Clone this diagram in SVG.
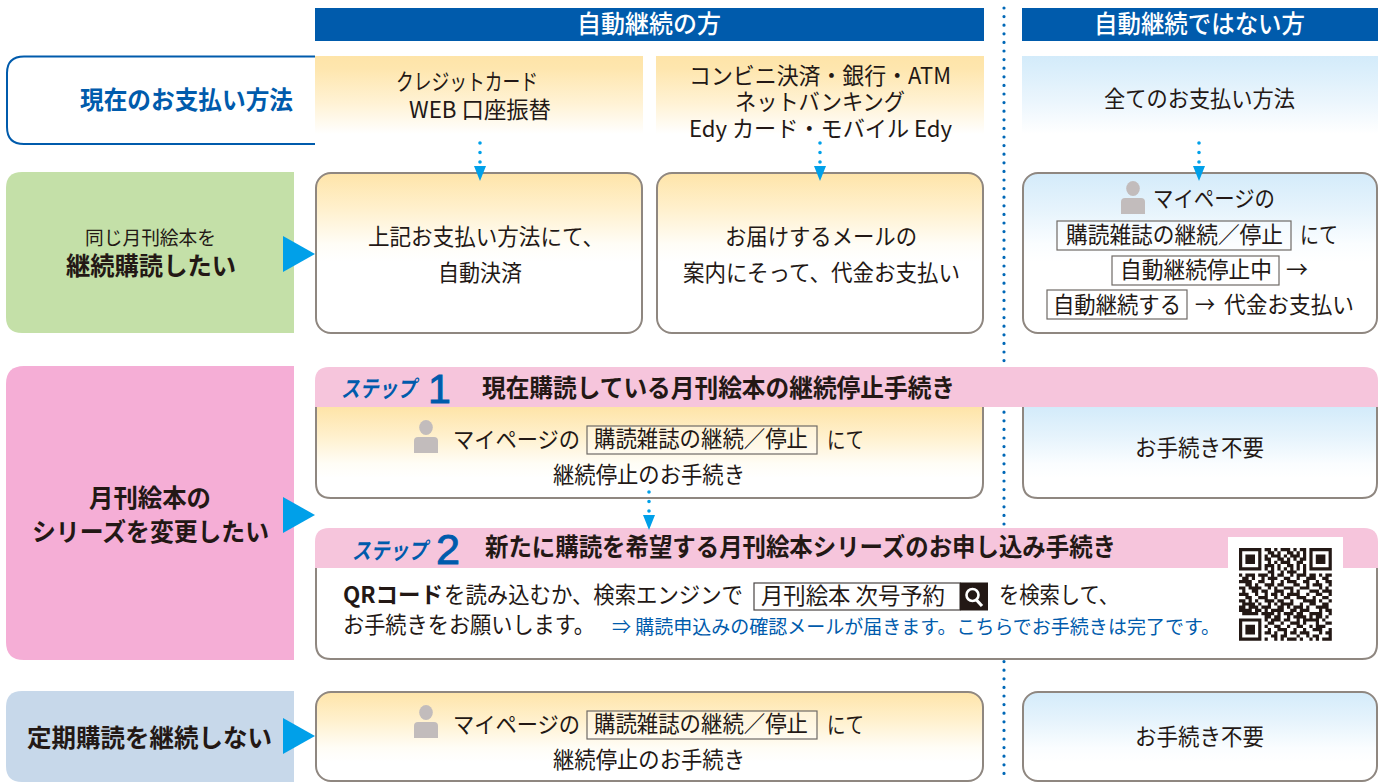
<svg xmlns="http://www.w3.org/2000/svg" xmlns:xlink="http://www.w3.org/1999/xlink" width="1381" height="782" viewBox="0 0 1381 782">
<style>
text{font-family:"Noto Sans CJK JP","Noto Sans",sans-serif;fill:#231815;font-size:22.5px;font-weight:400}
.b{font-weight:700}
.w{fill:#fff;font-size:25px;font-weight:500}
.bl{fill:#005bac}
.lg{font-size:25px;font-weight:700}
.t{font-size:24.5px;font-weight:700}
.st{fill:#005bac;font-size:23px;font-weight:700;font-style:italic}
.n{fill:#005bac;font-family:"Liberation Sans",sans-serif;font-weight:400;stroke:#005bac;stroke-width:.9px}
.card{stroke:#8f8780;stroke-width:2}
.box{fill:#fff;fill-opacity:.35;stroke:#6f6a66;stroke-width:1.2}
.hd{fill:#005bac}
.bar{fill:#f6c5dc}
.dot{fill:none;stroke:#00a0e9;stroke-width:3.6;stroke-linecap:round;stroke-dasharray:0 9.5}
.tri{fill:#00a0e9}
</style>
<defs>
<linearGradient id="y" x1="0" y1="0" x2="0" y2="1"><stop offset="0" stop-color="#fee4a8"/><stop offset=".12" stop-color="#fee6ae"/><stop offset=".45" stop-color="#fff2d4"/><stop offset=".75" stop-color="#fff"/></linearGradient>
<linearGradient id="c" x1="0" y1="0" x2="0" y2="1"><stop offset="0" stop-color="#d3ebfa"/><stop offset=".12" stop-color="#d9eefb"/><stop offset=".45" stop-color="#ecf6fd"/><stop offset=".75" stop-color="#fff"/></linearGradient>
<linearGradient id="yc" x1="0" y1="172" x2="0" y2="262" gradientUnits="userSpaceOnUse"><stop offset="0" stop-color="#fee4a8"/><stop offset=".4" stop-color="#fff0cc"/><stop offset=".8" stop-color="#fffdf6"/><stop offset="1" stop-color="#fff"/></linearGradient>
<linearGradient id="cc" x1="0" y1="172" x2="0" y2="262" gradientUnits="userSpaceOnUse"><stop offset="0" stop-color="#d3ebfa"/><stop offset=".4" stop-color="#e5f3fc"/><stop offset=".8" stop-color="#fafdff"/><stop offset="1" stop-color="#fff"/></linearGradient>
<linearGradient id="y2" x1="0" y1="407" x2="0" y2="478" gradientUnits="userSpaceOnUse"><stop offset="0" stop-color="#fee4a8"/><stop offset=".4" stop-color="#fff0cc"/><stop offset=".8" stop-color="#fffdf6"/><stop offset="1" stop-color="#fff"/></linearGradient>
<linearGradient id="c2" x1="0" y1="407" x2="0" y2="478" gradientUnits="userSpaceOnUse"><stop offset="0" stop-color="#d3ebfa"/><stop offset=".4" stop-color="#e5f3fc"/><stop offset=".8" stop-color="#fafdff"/><stop offset="1" stop-color="#fff"/></linearGradient>
<linearGradient id="y3" x1="0" y1="691" x2="0" y2="762" gradientUnits="userSpaceOnUse"><stop offset="0" stop-color="#fee4a8"/><stop offset=".4" stop-color="#fff0cc"/><stop offset=".8" stop-color="#fffdf6"/><stop offset="1" stop-color="#fff"/></linearGradient>
<linearGradient id="c3" x1="0" y1="691" x2="0" y2="762" gradientUnits="userSpaceOnUse"><stop offset="0" stop-color="#d3ebfa"/><stop offset=".4" stop-color="#e5f3fc"/><stop offset=".8" stop-color="#fafdff"/><stop offset="1" stop-color="#fff"/></linearGradient>
<g id="person"><ellipse cx="12" cy="7.500" rx="6.800" ry="7.500" fill="#c2bcbc"/><path d="M0 21Q0 17 4 17H20Q24 17 24 21V33H0Z" fill="#c2bcbc"/></g>
</defs>

<path id="center-divider" d="M1004 8V782" fill="none" stroke="#0068b7" stroke-width="3.200" stroke-linecap="round" stroke-dasharray="0 8.600"/>

<g id="header-auto"><rect class="hd" x="315" y="8" width="669" height="33"/><text class="w" x="577" y="33" textLength="144" lengthAdjust="spacingAndGlyphs">自動継続の方</text></g>
<g id="header-nonauto"><rect class="hd" x="1022" y="8" width="356" height="33"/><text class="w" x="1094" y="33" textLength="211" lengthAdjust="spacingAndGlyphs">自動継続ではない方</text></g>

<g id="row-payment"><path d="M315 56.500H24Q7 56.500 7 73V127Q7 144 24 144H315" fill="#fff" stroke="#005bac" stroke-width="2"/><text class="lg bl" x="80" y="109" textLength="213" lengthAdjust="spacingAndGlyphs">現在のお支払い方法</text></g>

<g id="pay-credit"><rect x="315" y="56" width="328" height="104" fill="url(#y)"/>
<text x="396" y="90" textLength="142" lengthAdjust="spacingAndGlyphs">クレジットカード</text>
<text x="409" y="118" textLength="142" lengthAdjust="spacingAndGlyphs">WEB 口座振替</text></g>
<g id="pay-conv"><rect x="656" y="56" width="328" height="104" fill="url(#y)"/>
<text x="689" y="84" textLength="262" lengthAdjust="spacingAndGlyphs">コンビニ決済・銀行・ATM</text>
<text x="735" y="110" textLength="170" lengthAdjust="spacingAndGlyphs">ネットバンキング</text>
<text x="689" y="137" textLength="263" lengthAdjust="spacingAndGlyphs">Edy カード・モバイル Edy</text></g>
<g id="pay-all"><rect x="1022" y="56" width="356" height="104" fill="url(#c)"/>
<text x="1104" y="107" textLength="191" lengthAdjust="spacingAndGlyphs">全てのお支払い方法</text></g>

<g id="row-same"><path d="M294 172H22Q6 172 6 188V317Q6 333 22 333H294Z" fill="#c4e0a8"/>
<text x="85" y="245" style="font-size:19px" textLength="131" lengthAdjust="spacingAndGlyphs">同じ月刊絵本を</text>
<text class="lg" x="66" y="275" textLength="170" lengthAdjust="spacingAndGlyphs">継続購読したい</text>
<path class="tri" d="M283 236L315 254L283 272Z"/></g>

<g id="same-credit"><rect class="card" x="316" y="173" width="326" height="160" rx="15" fill="url(#yc)"/>
<text x="368" y="245" textLength="236" lengthAdjust="spacingAndGlyphs">上記お支払い方法にて、</text>
<text x="438" y="281" textLength="84" lengthAdjust="spacingAndGlyphs">自動決済</text></g>
<g id="same-conv"><rect class="card" x="657" y="173" width="326" height="160" rx="15" fill="url(#yc)"/>
<text x="725" y="245" textLength="192" lengthAdjust="spacingAndGlyphs">お届けするメールの</text>
<text x="683" y="281" textLength="277" lengthAdjust="spacingAndGlyphs">案内にそって、代金お支払い</text></g>
<g id="same-other"><rect class="card" x="1023" y="173" width="354" height="160" rx="15" fill="url(#cc)"/>
<use xlink:href="#person" href="#person" x="1121" y="181"/>
<text x="1153" y="207" textLength="122" lengthAdjust="spacingAndGlyphs">マイページの</text>
<rect class="box" x="1057" y="221" width="234" height="29"/>
<text x="1066" y="243" textLength="217" lengthAdjust="spacingAndGlyphs">購読雑誌の継続／停止</text>
<text x="1300" y="243" textLength="38" lengthAdjust="spacingAndGlyphs">にて</text>
<rect class="box" x="1112" y="256" width="167" height="29"/>
<text x="1120" y="278" textLength="152" lengthAdjust="spacingAndGlyphs">自動継続停止中</text>
<text x="1286" y="278" textLength="22" lengthAdjust="spacingAndGlyphs">→</text>
<rect class="box" x="1047" y="290" width="140" height="29"/>
<text x="1053" y="313" textLength="128" lengthAdjust="spacingAndGlyphs">自動継続する</text>
<text x="1195" y="313" textLength="20" lengthAdjust="spacingAndGlyphs">→</text>
<text x="1224" y="313" textLength="130" lengthAdjust="spacingAndGlyphs">代金お支払い</text></g>

<g id="row-change"><path d="M294 366H24Q6 366 6 384V642Q6 660 24 660H294Z" fill="#f5aed6"/>
<text class="lg" x="89" y="507" textLength="122" lengthAdjust="spacingAndGlyphs">月刊絵本の</text>
<text class="lg" x="32" y="541" textLength="237" lengthAdjust="spacingAndGlyphs">シリーズを変更したい</text>
<path class="tri" d="M283 497L315 515L283 533Z"/></g>

<g id="step1-left"><path class="card" d="M316 400V483Q316 498 331 498H968Q983 498 983 483V400Z" fill="url(#y2)"/>
<use xlink:href="#person" href="#person" x="414" y="420"/>
<text x="453" y="448" textLength="127" lengthAdjust="spacingAndGlyphs">マイページの</text>
<rect class="box" x="587" y="426" width="230" height="28"/>
<text x="594" y="447" textLength="214" lengthAdjust="spacingAndGlyphs">購読雑誌の継続／停止</text>
<text x="827" y="448" textLength="37" lengthAdjust="spacingAndGlyphs">にて</text>
<text x="553" y="483" textLength="192" lengthAdjust="spacingAndGlyphs">継続停止のお手続き</text></g>
<g id="step1-right"><path class="card" d="M1023 400V483Q1023 498 1038 498H1362Q1377 498 1377 483V400Z" fill="url(#c2)"/>
<text x="1135" y="456" textLength="129" lengthAdjust="spacingAndGlyphs">お手続き不要</text></g>
<g id="step1-bar"><path class="bar" d="M315 407V381Q315 367 329 367H1364Q1378 367 1378 381V407Z"/>
<text class="st" x="341" y="397" textLength="75" lengthAdjust="spacingAndGlyphs">ステップ</text>
<text class="n" x="428" y="403" style="font-size:41px">1</text>
<text class="t" x="482" y="397" textLength="473" lengthAdjust="spacingAndGlyphs">現在購読している月刊絵本の継続停止手続き</text></g>

<g id="step2-card"><path class="card" d="M316 560V644Q316 659 331 659H1362Q1377 659 1377 644V560Z" fill="#fff"/>
<path class="bar" d="M315 568V542Q315 528 329 528H1364Q1378 528 1378 542V568Z"/>
<text class="st" x="352" y="559" textLength="75" lengthAdjust="spacingAndGlyphs">ステップ</text>
<text class="n" x="436" y="564" style="font-size:43px" textLength="24" lengthAdjust="spacingAndGlyphs">2</text>
<text class="t" x="485" y="556" textLength="631" lengthAdjust="spacingAndGlyphs">新たに購読を希望する月刊絵本シリーズのお申し込み手続き</text>
<text class="b" x="343" y="603" textLength="100" lengthAdjust="spacingAndGlyphs">QRコード</text>
<text x="444" y="603" textLength="299" lengthAdjust="spacingAndGlyphs">を読み込むか、検索エンジンで</text>
<rect x="754" y="583" width="206" height="27" fill="#fff" stroke="#4a4544" stroke-width="1.200"/>
<text x="761" y="604" textLength="184" lengthAdjust="spacingAndGlyphs">月刊絵本  次号予約</text>
<rect x="960" y="582.500" width="28" height="28" fill="#231815"/>
<circle cx="972.500" cy="595" r="6" fill="none" stroke="#fff" stroke-width="2.600"/>
<path d="M976.500 600L982 606" stroke="#fff" stroke-width="3.200" fill="none"/>
<text x="999" y="603" textLength="120" lengthAdjust="spacingAndGlyphs">を検索して、</text>
<text x="343" y="633" textLength="252" lengthAdjust="spacingAndGlyphs">お手続きをお願いします。</text>
<text class="bl" x="612" y="634" style="font-size:19px" textLength="608" lengthAdjust="spacingAndGlyphs">⇒ 購読申込みの確認メールが届きます。こちらでお手続きは完了です。</text>
<rect x="1228" y="537" width="115" height="113" fill="#fff"/>
<g id="qr" transform="translate(1239 548) scale(3.2)"><path fill="none" stroke="#231815" stroke-width="1" d="M0 .5h7M8 .5h2M11 .5h1M13 .5h3M17 .5h1M19 .5h2M22 .5h7
M0 1.500h1M6 1.500h1M9 1.500h2M12 1.500h1M15 1.500h2M18 1.500h1M20 1.500h1M22 1.500h1M28 1.500h1
M0 2.500h1M2 2.500h3M6 2.500h1M8 2.500h1M10 2.500h3M14 2.500h1M16 2.500h3M20 2.500h1M22 2.500h1M24 2.500h3M28 2.500h1
M0 3.500h1M2 3.500h3M6 3.500h1M8 3.500h2M12 3.500h2M15 3.500h1M17 3.500h1M19 3.500h2M22 3.500h1M24 3.500h3M28 3.500h1
M0 4.500h1M2 4.500h3M6 4.500h1M9 4.500h1M11 4.500h1M13 4.500h3M18 4.500h2M22 4.500h1M24 4.500h3M28 4.500h1
M0 5.500h1M6 5.500h1M8 5.500h3M12 5.500h1M15 5.500h2M18 5.500h1M20 5.500h1M22 5.500h1M28 5.500h1
M0 6.500h7M8 6.500h1M10 6.500h1M12 6.500h1M14 6.500h1M16 6.500h1M18 6.500h1M20 6.500h1M22 6.500h7
M9 7.500h2M13 7.500h1M15 7.500h3M20 7.500h1
M0 8.500h1M2 8.500h3M6 8.500h3M10 8.500h1M12 8.500h2M16 8.500h1M18 8.500h3M22 8.500h2M25 8.500h1M27 8.500h2
M1 9.500h2M4 9.500h1M7 9.500h1M9 9.500h3M14 9.500h2M18 9.500h1M21 9.500h3M26 9.500h2
M0 10.500h4M6 10.500h2M10 10.500h1M13 10.500h1M15 10.500h3M20 10.500h2M24 10.500h1M27 10.500h2
M2 11.500h2M5 11.500h1M8 11.500h3M12 11.500h2M17 11.500h2M21 11.500h1M23 11.500h3M28 11.500h1
M0 12.500h2M3 12.500h4M9 12.500h1M11 12.500h1M14 12.500h3M19 12.500h3M25 12.500h1M27 12.500h1
M1 13.500h1M4 13.500h2M7 13.500h2M11 13.500h3M16 13.500h1M18 13.500h1M22 13.500h3M26 13.500h3
M0 14.500h3M5 14.500h1M8 14.500h1M10 14.500h2M13 14.500h1M15 14.500h4M21 14.500h1M24 14.500h2M28 14.500h1
M2 15.500h2M6 15.500h3M11 15.500h1M14 15.500h2M18 15.500h3M23 15.500h1M26 15.500h2
M0 16.500h2M3 16.500h1M5 16.500h1M8 16.500h3M12 16.500h2M16 16.500h1M20 16.500h4M25 16.500h1M28 16.500h1
M1 17.500h4M6 17.500h1M9 17.500h1M11 17.500h1M13 17.500h4M19 17.500h1M22 17.500h2M26 17.500h2
M0 18.500h2M3 18.500h3M7 18.500h3M12 18.500h2M15 18.500h1M17 18.500h3M21 18.500h1M24 18.500h4
M0 19.500h4M5 19.500h2M8 19.500h1M10 19.500h4M16 19.500h2M19 19.500h3M25 19.500h1M27 19.500h2
M1 20.500h5M7 20.500h4M12 20.500h1M14 20.500h3M18 20.500h2M22 20.500h4M28 20.500h1
M8 21.500h2M11 21.500h2M15 21.500h1M17 21.500h4M22 21.500h1M24 21.500h2M27 21.500h1
M0 22.500h7M8 22.500h1M10 22.500h3M14 22.500h2M18 22.500h1M20 22.500h5M26 22.500h1
M0 23.500h1M6 23.500h1M9 23.500h2M13 23.500h1M16 23.500h3M20 23.500h1M24 23.500h1M27 23.500h2
M0 24.500h1M2 24.500h3M6 24.500h1M8 24.500h1M11 24.500h2M15 24.500h1M18 24.500h2M22 24.500h1M24 24.500h3
M0 25.500h1M2 25.500h3M6 25.500h1M9 25.500h1M12 25.500h3M17 25.500h1M20 25.500h1M23 25.500h3M28 25.500h1
M0 26.500h1M2 26.500h3M6 26.500h1M8 26.500h2M11 26.500h1M14 26.500h1M16 26.500h2M19 26.500h3M25 26.500h1M27 26.500h2
M0 27.500h1M6 27.500h1M10 27.500h2M13 27.500h2M18 27.500h1M21 27.500h1M23 27.500h2M28 27.500h1
M0 28.500h7M8 28.500h1M11 28.500h1M13 28.500h1M15 28.500h3M19 28.500h1M22 28.500h1M24 28.500h1M26 28.500h3"/></g></g>

<g id="row-stop"><path d="M294 691H22Q6 691 6 707V766Q6 782 22 782H294Z" fill="#c7d8ea"/>
<text class="lg" x="27" y="747" textLength="245" lengthAdjust="spacingAndGlyphs">定期購読を継続しない</text>
<path class="tri" d="M283 718L315 736L283 754Z"/></g>

<g id="stop-left"><rect class="card" x="316" y="692" width="667" height="89" rx="15" fill="url(#y3)"/>
<use xlink:href="#person" href="#person" x="414" y="705"/>
<text x="453" y="733" textLength="127" lengthAdjust="spacingAndGlyphs">マイページの</text>
<rect class="box" x="587" y="711" width="230" height="28"/>
<text x="594" y="732" textLength="214" lengthAdjust="spacingAndGlyphs">購読雑誌の継続／停止</text>
<text x="827" y="733" textLength="37" lengthAdjust="spacingAndGlyphs">にて</text>
<text x="553" y="768" textLength="192" lengthAdjust="spacingAndGlyphs">継続停止のお手続き</text></g>
<g id="stop-right"><rect class="card" x="1023" y="692" width="354" height="89" rx="15" fill="url(#c3)"/>
<text x="1135" y="745" textLength="129" lengthAdjust="spacingAndGlyphs">お手続き不要</text></g>

<g id="connectors">
<path class="dot" d="M480 143V168"/><path d="M474 166H486L480 181Z" class="tri"/>
<path class="dot" d="M820 143V168"/><path d="M814 166H826L820 181Z" class="tri"/>
<path class="dot" d="M1199 143V168"/><path d="M1193 166H1205L1199 181Z" class="tri"/>
<path class="dot" d="M649 492V516"/><path d="M643 515H655L649 530Z" class="tri"/>
</g>
</svg>
